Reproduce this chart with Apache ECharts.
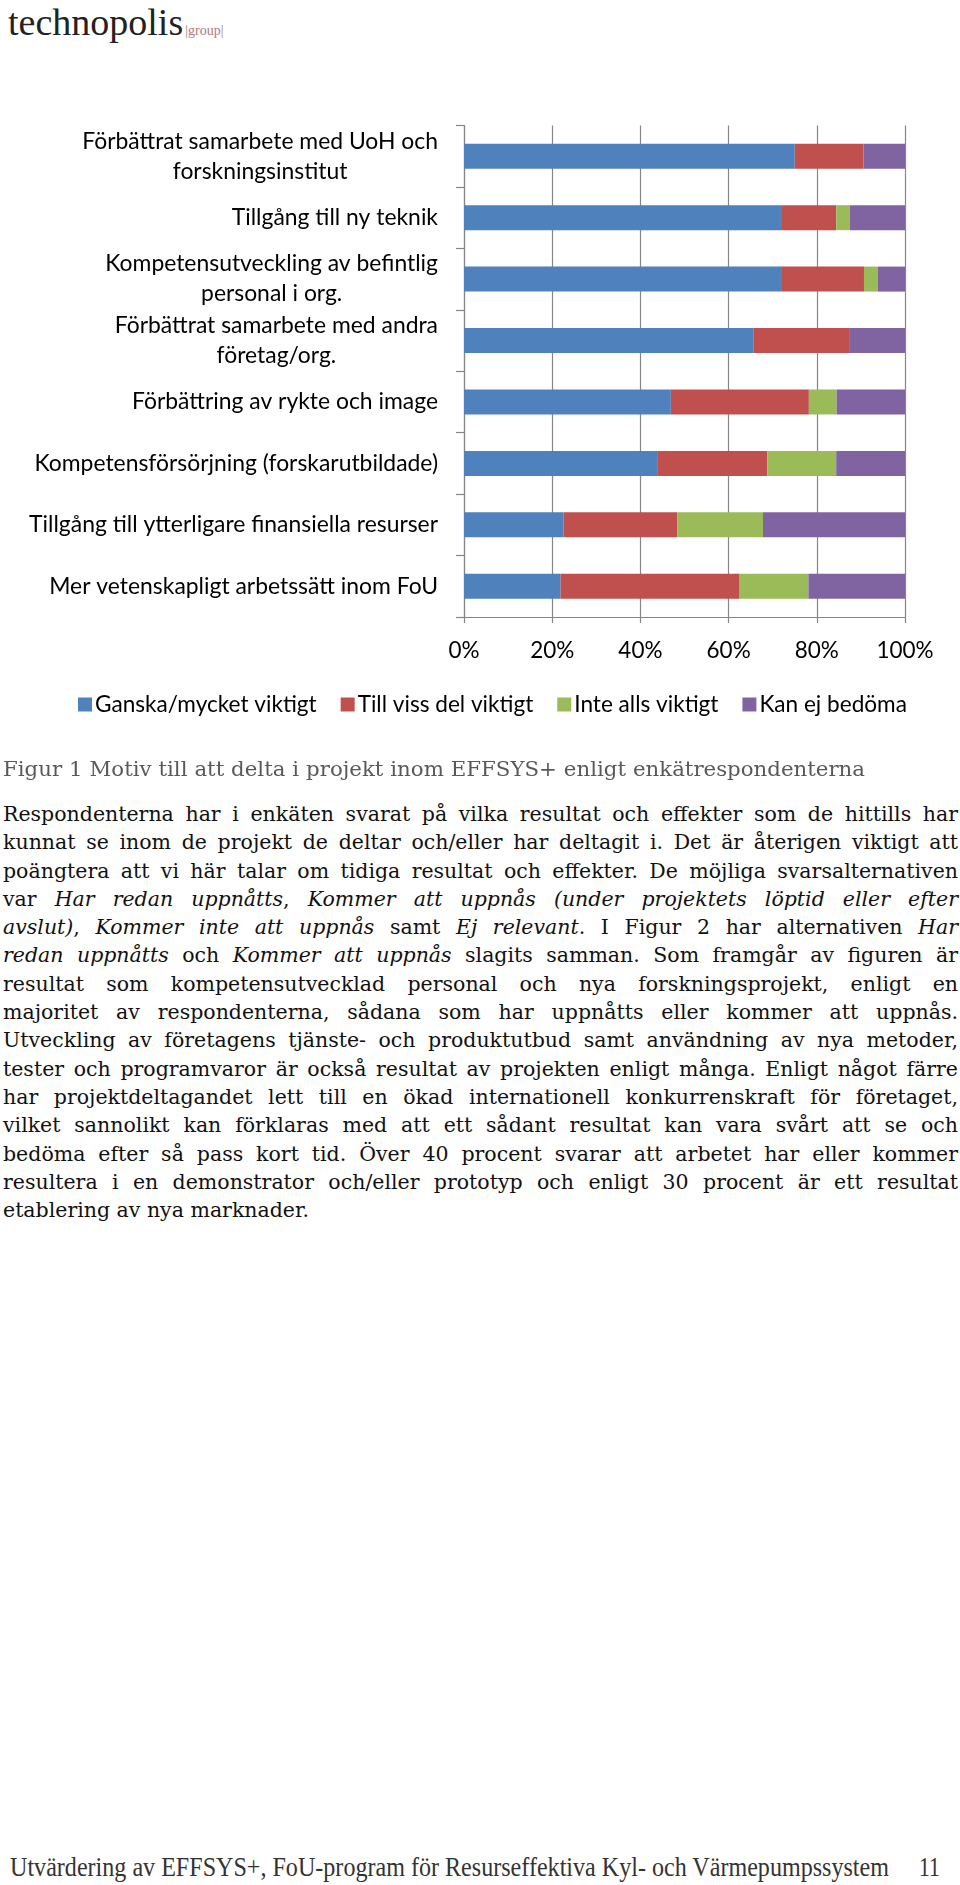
<!DOCTYPE html>
<html>
<head>
<meta charset="utf-8">
<script src="https://cdn.jsdelivr.net/npm/echarts@6/dist/echarts.min.js"></script>
<style>
  html, body { margin: 0; padding: 0; background: #fff; }
  body { width: 960px; height: 1885px; position: relative; overflow: hidden; }
  #chart { position: absolute; left: 0; top: 0; width: 960px; height: 760px; }
  .logo { position: absolute; left: 8px; top: 0px; font-family: "Liberation Serif", serif; color: #222; white-space: nowrap; }
  .logo .main { font-size: 38px; }
  .logo .grp { font-size: 14px; color: #b07a7a; margin-left: 2px; }
  .fit { display: inline-block; white-space: nowrap; }
  .caption { position: absolute; left: 3px; top: 755px; font-family: "DejaVu Serif", serif; font-size: 21.3px; line-height: 28px; color: #595959; }
  .bodytext { position: absolute; left: 3px; top: 800px; width: 955px; font-family: "DejaVu Serif", serif; font-size: 20.5px; line-height: 28.3px; color: #111; }
  .bodytext .ln { display: block; height: 28.3px; }
  .footer { position: absolute; left: 10px; top: 1851px; font-family: "Liberation Serif", serif; font-size: 27px; line-height: 32px; color: #333; white-space: nowrap; }
  .footer .fit { transform-origin: 0 0; }
  .pg { position: absolute; left: 919px; top: 1851px; font-family: "Liberation Serif", serif; font-size: 27px; line-height: 32px; color: #333; transform: scaleX(0.8); transform-origin: 0 0; }
</style>
</head>
<body>
<div class="logo"><span class="main">technopolis</span><span class="grp">|group|</span></div>
<div id="chart"></div>
<div class="caption"><span class="fit" data-w="862">Figur 1 Motiv till att delta i projekt inom EFFSYS+ enligt enkätrespondenterna</span></div>
<div class="bodytext">
  <div class="ln"><span class="fit" data-w="955">Respondenterna har i enkäten svarat på vilka resultat och effekter som de hittills har</span></div>
  <div class="ln"><span class="fit" data-w="955">kunnat se inom de projekt de deltar och/eller har deltagit i. Det är återigen viktigt att</span></div>
  <div class="ln"><span class="fit" data-w="955">poängtera att vi här talar om tidiga resultat och effekter. De möjliga svarsalternativen</span></div>
  <div class="ln"><span class="fit" data-w="955">var <i>Har redan uppnåtts</i>, <i>Kommer att uppnås (under projektets löptid eller efter</i></span></div>
  <div class="ln"><span class="fit" data-w="955"><i>avslut)</i>, <i>Kommer inte att uppnås</i> samt <i>Ej relevant</i>. I Figur 2 har alternativen <i>Har</i></span></div>
  <div class="ln"><span class="fit" data-w="955"><i>redan uppnåtts</i> och <i>Kommer att uppnås</i> slagits samman. Som framgår av figuren är</span></div>
  <div class="ln"><span class="fit" data-w="955">resultat som kompetensutvecklad personal och nya forskningsprojekt, enligt en</span></div>
  <div class="ln"><span class="fit" data-w="955">majoritet av respondenterna, sådana som har uppnåtts eller kommer att uppnås.</span></div>
  <div class="ln"><span class="fit" data-w="955">Utveckling av företagens tjänste- och produktutbud samt användning av nya metoder,</span></div>
  <div class="ln"><span class="fit" data-w="955">tester och programvaror är också resultat av projekten enligt många. Enligt något färre</span></div>
  <div class="ln"><span class="fit" data-w="955">har projektdeltagandet lett till en ökad internationell konkurrenskraft för företaget,</span></div>
  <div class="ln"><span class="fit" data-w="955">vilket sannolikt kan förklaras med att ett sådant resultat kan vara svårt att se och</span></div>
  <div class="ln"><span class="fit" data-w="955">bedöma efter så pass kort tid. Över 40 procent svarar att arbetet har eller kommer</span></div>
  <div class="ln"><span class="fit" data-w="955">resultera i en demonstrator och/eller prototyp och enligt 30 procent är ett resultat</span></div>
  <div class="ln"><span class="fit" data-w="330">etablering av nya marknader.</span></div>
</div>
<div class="footer"><span class="fit" id="foot">Utvärdering av EFFSYS+, FoU-program för Resurseffektiva Kyl- och Värmepumpssystem</span></div>
<div class="pg">11</div>
<script>
// ---- data ----
const categories = [
  'Förbättrat samarbete med UoH och\nforskningsinstitut',
  'Tillgång till ny teknik',
  'Kompetensutveckling av befintlig\npersonal i org.',
  'Förbättrat samarbete med andra\nföretag/org.',
  'Förbättring av rykte och image',
  'Kompetensförsörjning (forskarutbildade)',
  'Tillgång till ytterligare finansiella resurser',
  'Mer vetenskapligt arbetssätt inom FoU'
];
const seriesNames = ['Ganska/mycket viktigt', 'Till viss del viktigt', 'Inte alls viktigt', 'Kan ej bedöma'];
const ganskaMycket = [75.0, 71.9, 71.9, 65.6, 46.9, 43.8, 22.6, 21.9];
const tillVissDel  = [15.6, 12.5, 18.8, 21.9, 31.3, 25.0, 25.8, 40.6];
const inteAlls     = [0.0, 3.1, 3.1, 0.0, 6.3, 15.6, 19.4, 15.6];
const kanEj        = [9.4, 12.5, 6.3, 12.5, 15.6, 15.6, 32.3, 21.9];
const xTicks = [0, 20, 40, 60, 80, 100];
const colors = ['#4F81BD', '#C0504D', '#9BBB59', '#8064A2'];

// fit text lines to the measured widths of the reference page
function fitLines() {
  document.querySelectorAll('.bodytext .fit, .caption .fit').forEach(function (el) {
    if (el.dataset.w === '330') return;
    el.style.wordSpacing = '0px';
    const w = el.getBoundingClientRect().width;
    const spaces = (el.textContent.match(/ /g) || []).length;
    if (spaces > 0) el.style.wordSpacing = ((+el.dataset.w - w) / spaces) + 'px';
  });
  const f = document.getElementById('foot');
  f.style.transform = 'none';
  const fw = f.getBoundingClientRect().width;
  f.style.transform = 'scaleX(' + (879 / fw) + ')';
}
fitLines();
if (document.fonts && document.fonts.ready) document.fonts.ready.then(fitLines);

const seriesData = [ganskaMycket, tillVissDel, inteAlls, kanEj];
const FONT = 'Lato, "Open Sans", sans-serif';
const chart = echarts.init(document.getElementById('chart'), null, { renderer: 'canvas' });
chart.setOption({
  animation: false,
  color: colors,
  grid: { left: 464, right: 55, top: 125.5, height: 491.5, containLabel: false },
  legend: {
    data: seriesNames,
    left: 73, top: 688,
    itemWidth: 14, itemHeight: 14, itemGap: 24,
    icon: 'rect',
    textStyle: { fontFamily: FONT, fontSize: 22.6, color: '#000', padding: [0, 0, 0, -2] }
  },
  xAxis: {
    type: 'value', min: xTicks[0], max: xTicks[xTicks.length - 1], interval: 20,
    axisLine: { show: true, lineStyle: { color: '#868686', width: 1.2 } },
    axisTick: { show: true, length: 6, lineStyle: { color: '#868686', width: 1.2 } },
    splitLine: { show: true, lineStyle: { color: '#868686', width: 1.2 } },
    axisLabel: { formatter: '{value}%', fontFamily: FONT, fontSize: 22.5, color: '#000', margin: 22 }
  },
  yAxis: {
    type: 'category', inverse: true, data: categories,
    axisLine: { show: true, lineStyle: { color: '#868686', width: 1.2 } },
    axisTick: { show: true, length: 8, lineStyle: { color: '#868686', width: 1.2 } },
    axisLabel: {
      margin: 26, align: 'right',
      formatter: function (v) { return v.split('\n').map(function (s) { return '{c|' + s + '}'; }).join('\n'); },
      rich: { c: { align: 'center', fontFamily: FONT, fontSize: 22.9, lineHeight: 30, color: '#000' } }
    }
  },
  series: seriesNames.map(function (name, i) {
    return { name: name, type: 'bar', stack: 'total', barWidth: 25, data: seriesData[i], itemStyle: { color: colors[i] } };
  })
});
</script>
</body>
</html>
